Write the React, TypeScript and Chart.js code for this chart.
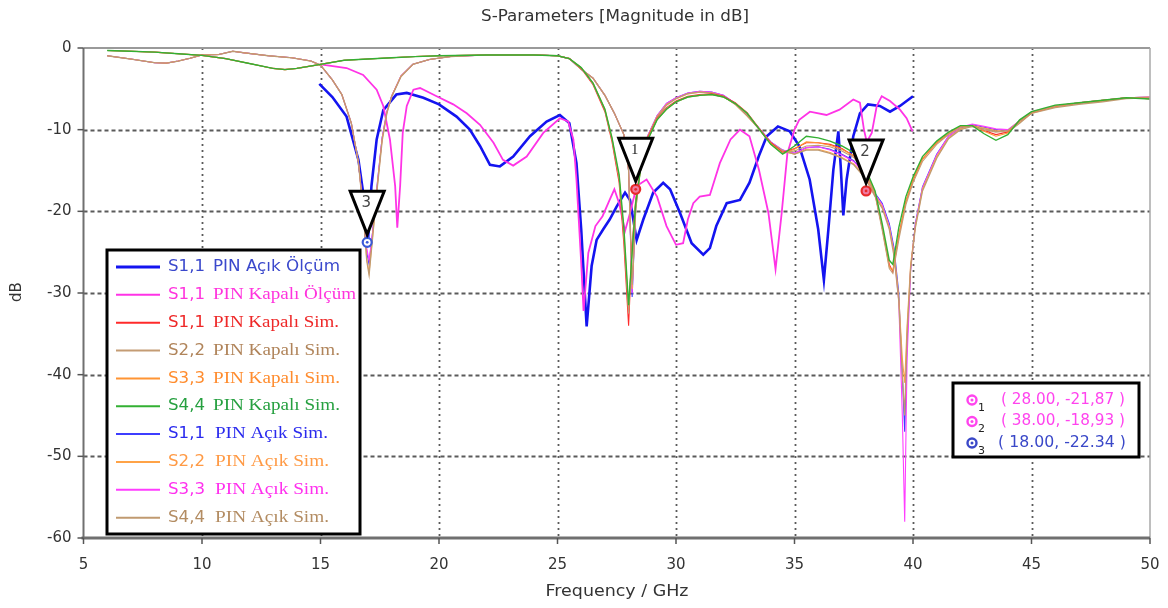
import { useEffect, useRef } from "react";
import { Chart, registerables } from "chart.js";

Chart.register(...registerables);

// ---- Measured curves ----
const acikOlcumFreq = [14.95, 15.5, 16.1, 16.6, 16.8, 16.92, 17.0, 17.15, 17.37, 17.65, 18.2, 18.64, 19.34, 20.0, 20.74, 21.3, 21.73, 22.15, 22.57, 23.13, 23.84, 24.54, 25.1, 25.5, 25.8, 26.0, 26.23, 26.44, 26.65, 26.93, 27.2, 27.5, 27.85, 28.06, 28.34, 28.62, 29.04, 29.46, 29.75, 30.17, 30.66, 31.15, 31.43, 31.7, 32.14, 32.7, 33.1, 33.5, 33.83, 34.3, 34.8, 35.2, 35.64, 36.0, 36.24, 36.43, 36.64, 36.85, 36.95, 37.06, 37.2, 37.48, 37.76, 38.1, 38.6, 39.03, 39.45, 40.0];
const acikOlcumDb = [-4.4, -6.0, -8.4, -13.7, -17.7, -23.5, -23.8, -16.9, -11.2, -7.6, -5.7, -5.5, -6.1, -6.9, -8.4, -10.0, -12.0, -14.3, -14.5, -13.3, -10.8, -9.0, -8.2, -9.2, -14.1, -22.2, -34.1, -26.7, -23.5, -22.2, -21.0, -19.4, -17.7, -18.6, -23.5, -21.0, -17.7, -16.5, -17.3, -20.2, -23.9, -25.3, -24.5, -21.8, -19.0, -18.6, -16.5, -13.2, -10.8, -9.6, -10.2, -12.0, -16.1, -22.2, -28.4, -22.2, -14.9, -10.2, -14.5, -20.5, -16.1, -10.8, -8.0, -6.9, -7.1, -7.8, -7.1, -5.9];

const kapaliOlcumFreq = [15.0, 16.1, 16.8, 17.37, 17.65, 17.93, 18.15, 18.24, 18.36, 18.47, 18.64, 18.92, 19.2, 19.9, 20.6, 21.17, 21.73, 22.3, 22.7, 23.13, 23.7, 24.4, 25.1, 25.45, 25.67, 25.8, 26.0, 26.1, 26.3, 26.6, 26.9, 27.2, 27.4, 27.6, 27.85, 28.06, 28.34, 28.76, 29.2, 29.6, 30.0, 30.3, 30.5, 30.73, 31.0, 31.43, 31.85, 32.3, 32.7, 33.1, 33.5, 33.9, 34.2, 34.46, 34.7, 35.0, 35.2, 35.65, 36.35, 36.9, 37.48, 37.76, 37.93, 38.05, 38.26, 38.47, 38.68, 39.03, 39.45, 39.73, 39.98];
const kapaliOlcumDb = [-2.0, -2.45, -3.3, -5.1, -7.1, -11.2, -16.9, -22.0, -16.9, -10.4, -7.1, -5.1, -4.9, -5.9, -6.9, -8.0, -9.4, -11.6, -13.7, -14.4, -13.3, -10.4, -8.6, -9.0, -11.2, -16.1, -26.3, -32.2, -25.1, -21.8, -20.6, -18.6, -17.3, -19.0, -22.4, -20.2, -16.9, -16.1, -18.2, -21.8, -24.1, -23.9, -21.0, -19.0, -18.2, -18.0, -14.1, -11.2, -10.0, -10.8, -14.9, -20.2, -27.1, -20.2, -12.9, -10.0, -8.8, -7.8, -8.2, -7.55, -6.3, -6.7, -10.0, -11.5, -10.4, -7.1, -5.9, -6.5, -7.55, -8.6, -10.2];

// ---- Simulated curves, PIN Kapalı ----
const kapaliSimFreq = [6, 7, 8, 9, 10, 11, 12, 13, 13.5, 14, 15, 16, 17, 18, 19, 20, 22, 24, 25, 25.5, 26, 26.5, 27, 27.3, 27.6, 27.8, 28.0, 28.15, 28.3, 28.5, 28.8, 29.2, 29.6, 30, 30.5, 31, 31.5, 32, 32.5, 33, 33.5, 34, 34.5, 35, 35.5, 36, 36.5, 37, 37.5, 38, 38.4, 38.7, 39.0, 39.15, 39.4, 39.7, 40, 40.4, 41, 41.5, 42, 42.5, 43, 43.5, 44, 44.5, 45, 46, 47, 48, 49, 50];
const s11KapaliSim = [-0.3, -0.4, -0.5, -0.7, -0.9, -1.3, -1.9, -2.5, -2.65, -2.5, -2.0, -1.5, -1.35, -1.2, -1.05, -0.95, -0.85, -0.85, -0.95, -1.3, -2.5, -4.5, -7.8, -11.5, -16.5, -24.0, -34.0, -24.0, -18.5, -14.6, -11.0, -8.6, -7.3, -6.5, -5.9, -5.7, -5.6, -5.9, -6.7, -7.9, -9.8, -11.6, -12.8, -12.3, -11.6, -11.6, -11.8, -12.3, -13.2, -15.2, -17.9, -22.0, -26.5, -27.4, -23.0, -18.8, -16.2, -13.6, -11.6, -10.5, -9.6, -9.5, -10.1, -10.6, -10.3, -8.9, -7.9, -7.1, -6.7, -6.4, -6.1, -6.2];
const s22KapaliSim = [-0.3, -0.4, -0.5, -0.7, -0.9, -1.3, -1.9, -2.5, -2.6, -2.5, -2.0, -1.5, -1.35, -1.2, -1.05, -0.95, -0.85, -0.85, -0.95, -1.3, -2.4, -4.4, -7.6, -11.2, -16.0, -23.0, -32.5, -24.5, -18.8, -14.8, -11.2, -8.7, -7.4, -6.6, -6.0, -5.8, -5.7, -6.0, -6.8, -8.0, -9.9, -11.8, -12.9, -12.6, -12.0, -11.9, -12.1, -12.6, -13.4, -15.3, -18.0, -22.3, -27.0, -27.6, -23.5, -19.2, -16.5, -13.9, -11.8, -10.6, -9.7, -9.6, -10.0, -10.3, -10.1, -8.9, -7.9, -7.1, -6.7, -6.4, -6.1, -6.2];
const s33KapaliSim = [-0.3, -0.4, -0.5, -0.7, -0.9, -1.3, -1.9, -2.5, -2.65, -2.5, -2.0, -1.5, -1.35, -1.2, -1.05, -0.95, -0.85, -0.85, -0.95, -1.3, -2.4, -4.3, -7.5, -11.1, -15.8, -22.5, -32.0, -24.8, -19.0, -15.0, -11.3, -8.8, -7.5, -6.6, -6.0, -5.8, -5.7, -6.0, -6.8, -8.0, -9.9, -11.7, -12.9, -12.4, -11.5, -11.6, -11.9, -12.4, -13.2, -15.0, -17.8, -22.0, -26.8, -27.2, -23.0, -18.8, -16.1, -13.6, -11.6, -10.5, -9.6, -9.5, -10.2, -10.8, -10.4, -8.9, -7.9, -7.1, -6.7, -6.4, -6.1, -6.2];
const s44KapaliSim = [-0.3, -0.4, -0.5, -0.7, -0.9, -1.3, -1.9, -2.5, -2.65, -2.5, -2.0, -1.5, -1.35, -1.2, -1.05, -0.95, -0.85, -0.85, -0.95, -1.3, -2.4, -4.3, -7.5, -11.0, -15.5, -22.0, -31.5, -25.0, -19.0, -15.0, -11.3, -8.8, -7.5, -6.6, -6.0, -5.8, -5.7, -6.0, -6.8, -8.0, -9.9, -11.8, -13.0, -12.0, -10.8, -11.0, -11.4, -12.0, -12.8, -14.8, -17.5, -21.5, -26.0, -26.5, -22.0, -18.2, -15.8, -13.3, -11.4, -10.3, -9.5, -9.5, -10.5, -11.3, -10.6, -8.8, -7.8, -7.0, -6.7, -6.4, -6.1, -6.25];

// ---- Simulated curves, PIN Açık ----
const acikSimFreq = [6, 7, 8, 8.5, 9, 9.5, 10, 10.7, 11.3, 11.8, 12.8, 13.8, 14.6, 15, 15.5, 15.9, 16.3, 16.6, 16.8, 16.95, 17.05, 17.2, 17.4, 17.6, 17.8, 18.0, 18.4, 18.9, 19.6, 20.5, 22, 24, 25, 25.5, 26, 26.5, 27, 27.4, 27.8, 28.0, 28.15, 28.3, 28.5, 28.8, 29.2, 29.6, 30, 30.5, 31, 31.5, 32, 32.5, 33, 33.5, 34, 34.5, 35, 35.5, 36, 36.5, 37, 37.5, 38, 38.4, 38.7, 39.0, 39.2, 39.4, 39.55, 39.65, 39.75, 39.9, 40.1, 40.4, 41, 41.5, 42, 42.5, 43, 43.5, 44, 44.5, 45, 46, 47, 48, 49, 50];
const s11AcikSim = [-0.95, -1.35, -1.8, -1.85, -1.6, -1.25, -0.85, -0.8, -0.4, -0.6, -0.95, -1.2, -1.6, -2.1, -3.9, -5.7, -9.2, -14.0, -19.5, -25.0, -26.5, -22.5, -16.5, -11.0, -7.8, -5.9, -3.4, -2.0, -1.4, -1.05, -0.85, -0.85, -0.95, -1.3, -2.6, -3.7, -5.8, -8.0, -10.6, -15.0, -30.5, -19.5, -14.5, -10.8, -8.3, -6.8, -6.1, -5.5, -5.3, -5.4, -5.8, -6.8, -8.2, -9.8, -11.5, -12.5, -12.9, -12.2, -12.1, -12.4, -13.0, -13.8, -15.5, -17.8, -19.0, -21.5, -24.5, -30.0, -40.0, -47.0, -36.0, -27.0, -21.5, -17.0, -13.0, -10.8, -9.8, -9.4, -9.7, -10.0, -10.1, -9.0, -7.9, -7.2, -6.8, -6.5, -6.1, -6.0];
const s22AcikSim = [-0.95, -1.35, -1.8, -1.85, -1.6, -1.25, -0.85, -0.8, -0.4, -0.6, -0.95, -1.2, -1.6, -2.1, -3.9, -5.7, -9.2, -14.0, -19.8, -25.8, -27.5, -23.0, -16.8, -11.2, -7.9, -5.9, -3.4, -2.0, -1.4, -1.05, -0.85, -0.85, -0.95, -1.3, -2.6, -3.7, -5.8, -8.0, -10.6, -15.0, -29.5, -19.8, -14.6, -10.9, -8.4, -6.9, -6.2, -5.6, -5.4, -5.5, -5.9, -6.9, -8.3, -9.9, -11.6, -12.6, -13.0, -12.4, -12.4, -12.8, -13.4, -14.2, -15.8, -18.0, -19.4, -22.0, -25.0, -30.5, -38.0, -41.0, -34.0, -26.5, -21.8, -17.3, -13.3, -11.0, -9.9, -9.5, -9.8, -10.1, -10.2, -9.1, -8.0, -7.2, -6.8, -6.5, -6.1, -6.0];
const s33AcikSim = [-0.95, -1.35, -1.8, -1.85, -1.6, -1.25, -0.85, -0.8, -0.4, -0.6, -0.95, -1.2, -1.6, -2.1, -3.9, -5.7, -9.2, -14.0, -19.5, -24.5, -26.0, -22.5, -16.5, -11.0, -7.8, -5.9, -3.4, -2.0, -1.4, -1.05, -0.85, -0.85, -0.95, -1.3, -2.6, -3.7, -5.8, -8.0, -10.6, -15.0, -30.0, -19.5, -14.5, -10.8, -8.3, -6.8, -6.1, -5.5, -5.3, -5.4, -5.8, -6.8, -8.2, -9.8, -11.5, -12.5, -12.9, -12.2, -12.1, -12.5, -13.1, -13.9, -15.6, -17.9, -19.2, -21.8, -25.0, -31.0, -45.0, -58.0, -38.0, -27.2, -21.6, -17.1, -13.1, -10.8, -9.7, -9.3, -9.6, -9.9, -10.0, -8.9, -7.8, -7.1, -6.7, -6.4, -6.1, -6.0];
const s44AcikSim = [-0.95, -1.35, -1.8, -1.85, -1.6, -1.25, -0.85, -0.8, -0.4, -0.6, -0.95, -1.2, -1.6, -2.1, -3.9, -5.7, -9.2, -14.0, -20.0, -26.0, -27.8, -23.2, -17.0, -11.4, -8.0, -6.0, -3.5, -2.0, -1.4, -1.05, -0.85, -0.85, -0.95, -1.3, -2.6, -3.7, -5.8, -8.0, -10.6, -15.0, -29.0, -19.8, -14.7, -11.0, -8.5, -7.0, -6.2, -5.6, -5.4, -5.5, -5.9, -6.9, -8.3, -9.9, -11.6, -12.6, -13.0, -12.5, -12.5, -12.9, -13.5, -14.3, -16.0, -18.2, -19.6, -22.2, -25.5, -31.0, -40.0, -45.0, -35.0, -27.0, -22.0, -17.5, -13.5, -11.1, -10.0, -9.6, -9.9, -10.2, -10.3, -9.2, -8.0, -7.3, -6.9, -6.6, -6.2, -6.1];

// ---- Axes ----
const xTicks = [5, 10, 15, 20, 25, 30, 35, 40, 45, 50];
const yTicks = [0, -10, -20, -30, -40, -50, -60];

// ---- Legend ----
const legendLabels = [
  "S1,1 PIN Açık Ölçüm",
  "S1,1 PIN Kapalı Ölçüm",
  "S1,1 PIN Kapalı Sim.",
  "S2,2 PIN Kapalı Sim.",
  "S3,3 PIN Kapalı Sim.",
  "S4,4 PIN Kapalı Sim.",
  "S1,1 PIN Açık Sim.",
  "S2,2 PIN Açık Sim.",
  "S3,3 PIN Açık Sim.",
  "S4,4 PIN Açık Sim.",
];
const lineColors = ["#1414f0", "#ff33e6", "#ff2a2a", "#c49c74", "#ff9433", "#33b033", "#3d3dff", "#ffa347", "#ff3dff", "#c09a70"];
const textColors = ["#3a48cc", "#ff33dd", "#ee2828", "#b0845a", "#ff8c2e", "#26a040", "#2a2aee", "#ff9a45", "#ff30ee", "#b38c62"];

// ---- Markers ----
const markerIds = ["1", "2", "3"];
const markerFreq = [28.3, 38.02, 16.97];
const markerDb = [-17.3, -17.5, -23.8];
const markerTexts = ["( 28.00, -21,87 )", "( 38.00, -18,93 )", "( 18.00, -22.34 )"];

const pairs = (xs: number[], ys: number[]) => xs.map((x, i) => ({ x, y: ys[i] }));

const SANS = '"DejaVu Sans", "Noto Sans", sans-serif';
const SERIF = '"Liberation Serif", "DejaVu Serif", serif';

function drawText(
  ctx: CanvasRenderingContext2D,
  text: string,
  x: number,
  y: number,
  font: string,
  color: string,
  align: "left" | "center" | "right",
  width?: number
) {
  ctx.save();
  ctx.font = font;
  ctx.fillStyle = color;
  ctx.textBaseline = "middle";
  ctx.textAlign = "left";
  const w = ctx.measureText(text).width;
  const target = width ?? w;
  const left = align === "left" ? x : align === "center" ? x - target / 2 : x - target;
  ctx.translate(left, y);
  ctx.scale(target / w, 1);
  ctx.fillText(text, 0, 0);
  ctx.restore();
}

const decorations = {
  id: "sparamDecor",
  beforeDatasetsDraw(chart: any) {
    const { ctx, chartArea: a, scales } = chart;
    const xs = scales.x;
    const ys = scales.y;
    ctx.save();
    ctx.fillStyle = "#ffffff";
    ctx.fillRect(a.left, a.top, a.right - a.left, a.bottom - a.top);
    ctx.strokeStyle = "#5a5a5a";
    ctx.lineWidth = 1.8;
    ctx.setLineDash([2, 4]);
    for (const t of xTicks) {
      if (t === 5 || t === 50) continue;
      const px = Math.round(xs.getPixelForValue(t)) + 0.5;
      ctx.beginPath();
      ctx.moveTo(px, a.top);
      ctx.lineTo(px, a.bottom);
      ctx.stroke();
    }
    ctx.setLineDash([4, 3]);
    for (const t of yTicks) {
      if (t === 0 || t === -60) continue;
      const py = Math.round(ys.getPixelForValue(t)) + 0.5;
      ctx.beginPath();
      ctx.moveTo(a.left, py);
      ctx.lineTo(a.right, py);
      ctx.stroke();
    }
    ctx.restore();
  },
  afterDatasetsDraw(chart: any) {
    const { ctx, chartArea: a, scales } = chart;
    const xs = scales.x;
    const ys = scales.y;
    ctx.save();

    // frame
    ctx.setLineDash([]);
    ctx.strokeStyle = "#9a9a9a";
    ctx.lineWidth = 2;
    ctx.beginPath();
    ctx.moveTo(a.left, a.top);
    ctx.lineTo(a.right, a.top);
    ctx.stroke();
    ctx.lineWidth = 1.5;
    ctx.strokeStyle = "#a8a8a8";
    ctx.beginPath();
    ctx.moveTo(a.right, a.top);
    ctx.lineTo(a.right, a.bottom);
    ctx.stroke();
    ctx.strokeStyle = "#707070";
    ctx.lineWidth = 2;
    ctx.beginPath();
    ctx.moveTo(a.left, a.top);
    ctx.lineTo(a.left, a.bottom);
    ctx.stroke();
    ctx.lineWidth = 3;
    ctx.beginPath();
    ctx.moveTo(a.left - 2, a.bottom);
    ctx.lineTo(a.right, a.bottom);
    ctx.stroke();

    // tick marks and labels
    ctx.lineWidth = 1.5;
    ctx.strokeStyle = "#555";
    for (const t of xTicks) {
      const px = xs.getPixelForValue(t);
      ctx.beginPath();
      ctx.moveTo(px, a.bottom);
      ctx.lineTo(px, a.bottom + 6);
      ctx.stroke();
      drawText(ctx, String(t), px, a.bottom + 27, `15px ${SANS}`, "#333", "center");
    }
    for (const t of yTicks) {
      const py = ys.getPixelForValue(t);
      ctx.beginPath();
      ctx.moveTo(a.left - 6, py);
      ctx.lineTo(a.left, py);
      ctx.stroke();
      drawText(ctx, String(t), a.left - 12, py, `15px ${SANS}`, "#333", "right");
    }

    // titles
    drawText(ctx, "S-Parameters [Magnitude in dB]", 615, 17, `15px ${SANS}`, "#333", "center", 268);
    drawText(ctx, "Frequency / GHz", 617, 592, `15px ${SANS}`, "#333", "center", 143);
    ctx.save();
    ctx.translate(17, 292);
    ctx.rotate(-Math.PI / 2);
    drawText(ctx, "dB", 0, 0, `15px ${SANS}`, "#333", "center");
    ctx.restore();

    // marker points with flags
    markerIds.forEach((id, i) => {
      const mx = xs.getPixelForValue(markerFreq[i]);
      const my = ys.getPixelForValue(markerDb[i]);
      const isBlue = i === 2;
      ctx.beginPath();
      ctx.arc(mx, my, 4.5, 0, Math.PI * 2);
      ctx.fillStyle = isBlue ? "#ffffff" : "#f07aa0";
      ctx.fill();
      ctx.lineWidth = 2.2;
      ctx.strokeStyle = isBlue ? "#3a5ad8" : "#e82a2a";
      ctx.stroke();
      ctx.beginPath();
      ctx.arc(mx, my, 1.4, 0, Math.PI * 2);
      ctx.fillStyle = isBlue ? "#3a5ad8" : "#e82a2a";
      ctx.fill();

      const tipY = my - 8;
      const topY = tipY - 43;
      ctx.beginPath();
      ctx.moveTo(mx - 17, topY);
      ctx.lineTo(mx + 17, topY);
      ctx.lineTo(mx, tipY);
      ctx.closePath();
      ctx.fillStyle = "#ffffff";
      ctx.fill();
      ctx.lineWidth = 3;
      ctx.lineJoin = "miter";
      ctx.strokeStyle = "#000";
      ctx.stroke();
      drawText(
        ctx,
        id,
        mx - 1,
        topY + 12,
        i === 0 ? `14px ${SERIF}` : `15px ${SANS}`,
        i === 0 ? "#111" : "#444",
        "center"
      );
    });

    // series legend
    const lx = 107, ly = 250, lw = 253, lh = 284;
    ctx.fillStyle = "#ffffff";
    ctx.fillRect(lx, ly, lw, lh);
    ctx.lineWidth = 3;
    ctx.strokeStyle = "#000";
    ctx.strokeRect(lx, ly, lw, lh);
    const restWidths = [127, 143, 126, 127, 127, 127, 113, 114, 114, 114];
    legendLabels.forEach((label, i) => {
      const y = 267 + i * 27.85;
      ctx.beginPath();
      ctx.moveTo(116, y);
      ctx.lineTo(160, y);
      ctx.lineWidth = i === 0 ? 3 : 2;
      ctx.strokeStyle = lineColors[i];
      ctx.stroke();
      const sp = label.indexOf(" ");
      const head = label.slice(0, sp);
      const rest = label.slice(sp + 1);
      drawText(ctx, head, 168, y, `16px ${SANS}`, textColors[i], "left", 37);
      drawText(
        ctx,
        rest,
        i >= 6 ? 215 : 213,
        y,
        i === 0 ? `16px ${SANS}` : `16px ${SERIF}`,
        textColors[i],
        "left",
        restWidths[i]
      );
    });

    // marker readout box
    const bx = 953, by = 383, bw = 186, bh = 74;
    ctx.fillStyle = "#ffffff";
    ctx.fillRect(bx, by, bw, bh);
    ctx.lineWidth = 3;
    ctx.strokeStyle = "#000";
    ctx.strokeRect(bx, by, bw, bh);
    markerTexts.forEach((txt, i) => {
      const y = 400 + i * 21.5;
      const c = i === 2 ? "#3a48c8" : "#ff44ee";
      ctx.beginPath();
      ctx.arc(972, y, 4.5, 0, Math.PI * 2);
      ctx.lineWidth = 2.4;
      ctx.strokeStyle = c;
      ctx.stroke();
      ctx.beginPath();
      ctx.arc(972, y, 1.5, 0, Math.PI * 2);
      ctx.fillStyle = c;
      ctx.fill();
      drawText(ctx, markerIds[i], 978, y + 8, `11px ${SANS}`, "#222", "left");
      drawText(ctx, txt, i === 2 ? 998 : 1001, y, `15px ${SANS}`, c, "left", i === 2 ? 128 : 124);
    });

    ctx.restore();
  },
};

export default function App() {
  const ref = useRef<HTMLCanvasElement | null>(null);

  useEffect(() => {
    document.body.style.margin = "0";
    document.body.style.background = "#ffffff";
    const canvas = ref.current;
    if (!canvas) return;

    const sim = (label: string, xs: number[], ys: number[], color: string, width = 1.1) => ({
      label,
      data: pairs(xs, ys),
      borderColor: color,
      borderWidth: width,
      pointRadius: 0,
      fill: false,
      tension: 0,
    });

    const chart = new Chart(canvas, {
      type: "line",
      data: {
        datasets: [
          sim(legendLabels[5], kapaliSimFreq, s44KapaliSim, lineColors[5], 1.4),
          sim(legendLabels[3], kapaliSimFreq, s22KapaliSim, lineColors[3]),
          sim(legendLabels[4], kapaliSimFreq, s33KapaliSim, lineColors[4]),
          sim(legendLabels[2], kapaliSimFreq, s11KapaliSim, lineColors[2]),
          sim(legendLabels[9], acikSimFreq, s44AcikSim, lineColors[9], 1.3),
          sim(legendLabels[7], acikSimFreq, s22AcikSim, lineColors[7]),
          sim(legendLabels[8], acikSimFreq, s33AcikSim, lineColors[8]),
          sim(legendLabels[6], acikSimFreq, s11AcikSim, lineColors[6]),
          sim(legendLabels[1], kapaliOlcumFreq, kapaliOlcumDb, lineColors[1], 1.8),
          sim(legendLabels[0], acikOlcumFreq, acikOlcumDb, lineColors[0], 2.6),
        ],
      },
      options: {
        responsive: false,
        animation: false,
        layout: { padding: { left: 83.5, top: 48, right: 18, bottom: 70 } },
        plugins: {
          legend: { display: false },
          title: { display: false },
          tooltip: { enabled: false },
        },
        scales: {
          x: { type: "linear", min: 5, max: 50, display: false },
          y: { type: "linear", min: -60, max: 0, display: false },
        },
      },
      plugins: [decorations],
    });

    return () => chart.destroy();
  }, []);

  return (
    <canvas
      ref={ref}
      width={1168}
      height={608}
      style={{ display: "block", width: 1168, height: 608, background: "#fff" }}
    />
  );
}
